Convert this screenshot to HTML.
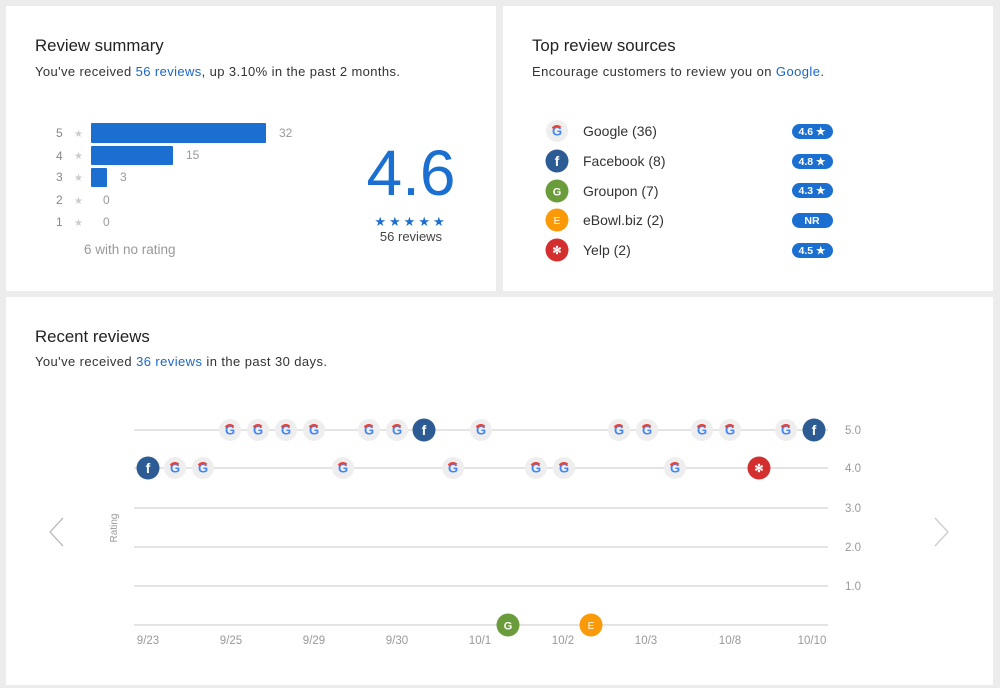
<!DOCTYPE html>
<html><head><meta charset="utf-8"><style>
html,body{margin:0;padding:0;background:#ececec;}
svg{display:block;font-family:"Liberation Sans",Arial,sans-serif;}
</style></head><body>
<svg width="1000" height="688" viewBox="0 0 1000 688" xmlns="http://www.w3.org/2000/svg">
<defs>
<g id="g"><circle r="11" fill="#eeeeee"/><text y="4.5" text-anchor="middle" font-size="13" font-weight="bold" fill="#4285f4">G</text><path d="M-4.3,-2.5 A5,5 0 0 1 3.5,-3.5" stroke="#ea4335" stroke-width="2.2" fill="none"/></g>
<g id="f"><circle r="11.5" fill="#2d5b94"/><text y="5" text-anchor="middle" font-size="14" font-weight="bold" fill="#fff">f</text></g>
<g id="gp"><circle r="11.5" fill="#6a9c3c"/><text y="4.5" text-anchor="middle" font-size="11" font-weight="bold" fill="#fff">G</text></g>
<g id="e"><circle r="11.5" fill="#fb9a08"/><text y="4" text-anchor="middle" font-size="10" fill="#fff">E</text></g>
<g id="y"><circle r="11.5" fill="#d32f2f"/><text y="4" text-anchor="middle" font-size="11" font-weight="bold" fill="#fff">✻</text></g>
</defs>
<rect x="6" y="6" width="490" height="285" fill="#fff"/>
<rect x="503" y="6" width="490" height="285" fill="#fff"/>
<rect x="6" y="297" width="987" height="388" fill="#fff"/>

<text x="35" y="51" font-size="16.8" fill="#222">Review summary</text>
<text x="35" y="76" font-size="13" fill="#333" textLength="365">You've received <tspan fill="#1a66c9">56 reviews</tspan>, up 3.10% in the past 2 months.</text>
<g font-size="12" fill="#888">
<text x="56" y="137">5</text><text x="56" y="160">4</text><text x="56" y="181">3</text><text x="56" y="204">2</text><text x="56" y="226">1</text>
</g>
<g font-size="10" fill="#ccc"><text x="74" y="137">★</text><text x="74" y="159">★</text><text x="74" y="181">★</text><text x="74" y="204">★</text><text x="74" y="226">★</text></g>
<rect x="91" y="123" width="175" height="20" rx="1" fill="#1a6fd1"/>
<rect x="91" y="146" width="82" height="19" rx="1" fill="#1a6fd1"/>
<rect x="91" y="168" width="16" height="19" rx="1" fill="#1a6fd1"/>
<g font-size="12" fill="#999"><text x="279" y="137">32</text><text x="186" y="159">15</text><text x="120" y="181">3</text><text x="103" y="204">0</text><text x="103" y="226">0</text></g>
<text x="84" y="254" font-size="13.5" fill="#999">6 with no rating</text>
<text x="411" y="195" text-anchor="middle" font-size="64" fill="#1a6fd1" style="font-weight:300">4.6</text>
<text x="411" y="226" text-anchor="middle" font-size="13" fill="#1a6fd1" letter-spacing="3">★★★★★</text>
<text x="411" y="241" text-anchor="middle" font-size="13" fill="#444">56 reviews</text>

<text x="532" y="51" font-size="16.8" fill="#222">Top review sources</text>
<text x="532" y="76" font-size="13" fill="#333" textLength="292">Encourage customers to review you on <tspan fill="#1a66c9">Google</tspan>.</text>
<use href="#g" x="557" y="131"/><use href="#f" x="557" y="161"/><use href="#gp" x="557" y="191"/><use href="#e" x="557" y="220"/><use href="#y" x="557" y="250"/>
<g font-size="14" fill="#333"><text x="583" y="136">Google (36)</text><text x="583" y="166">Facebook (8)</text><text x="583" y="196">Groupon (7)</text><text x="583" y="225">eBowl.biz (2)</text><text x="583" y="255">Yelp (2)</text></g>
<g fill="#1a6fd1"><rect x="792" y="124" width="41" height="15" rx="7.5"/><rect x="792" y="154" width="41" height="15" rx="7.5"/><rect x="792" y="183" width="41" height="15" rx="7.5"/><rect x="792" y="213" width="41" height="15" rx="7.5"/><rect x="792" y="243" width="41" height="15" rx="7.5"/></g>
<g font-size="10.5" font-weight="bold" fill="#fff" text-anchor="middle"><text x="812" y="135">4.6 ★</text><text x="812" y="165">4.8 ★</text><text x="812" y="194">4.3 ★</text><text x="812" y="224">NR</text><text x="812" y="254">4.5 ★</text></g>

<text x="35" y="342" font-size="16.8" fill="#222">Recent reviews</text>
<text x="35" y="366" font-size="13" fill="#333" textLength="292">You've received <tspan fill="#1a66c9">36 reviews</tspan> in the past 30 days.</text>
<g stroke="#d4d4d4" stroke-width="1.2"><line x1="134" y1="430" x2="828" y2="430"/><line x1="134" y1="468" x2="828" y2="468"/><line x1="134" y1="508" x2="828" y2="508"/><line x1="134" y1="547" x2="828" y2="547"/><line x1="134" y1="586" x2="828" y2="586"/><line x1="134" y1="625" x2="828" y2="625"/></g>
<g font-size="11.5" fill="#999"><text x="845" y="434">5.0</text><text x="845" y="472">4.0</text><text x="845" y="512">3.0</text><text x="845" y="551">2.0</text><text x="845" y="590">1.0</text></g>
<text transform="translate(117,528) rotate(-90)" text-anchor="middle" font-size="10" fill="#999">Rating</text>
<path d="M63,518 L50,532 L63,546" stroke="#bbb" stroke-width="1.3" fill="none"/>
<path d="M935,518 L948,532 L935,546" stroke="#ccc" stroke-width="1.3" fill="none"/>
<g font-size="11.5" fill="#999" text-anchor="middle"><text x="148" y="644">9/23</text><text x="231" y="644">9/25</text><text x="314" y="644">9/29</text><text x="397" y="644">9/30</text><text x="480" y="644">10/1</text><text x="563" y="644">10/2</text><text x="646" y="644">10/3</text><text x="730" y="644">10/8</text><text x="812" y="644">10/10</text></g>
<use href="#g" x="230" y="430"/><use href="#g" x="258" y="430"/><use href="#g" x="286" y="430"/><use href="#g" x="314" y="430"/><use href="#g" x="369" y="430"/><use href="#g" x="397" y="430"/><use href="#f" x="424" y="430"/><use href="#g" x="481" y="430"/><use href="#g" x="619" y="430"/><use href="#g" x="647" y="430"/><use href="#g" x="702" y="430"/><use href="#g" x="730" y="430"/><use href="#g" x="786" y="430"/><use href="#f" x="814" y="430"/>
<use href="#f" x="148" y="468"/><use href="#g" x="175" y="468"/><use href="#g" x="203" y="468"/><use href="#g" x="343" y="468"/><use href="#g" x="453" y="468"/><use href="#g" x="536" y="468"/><use href="#g" x="564" y="468"/><use href="#g" x="675" y="468"/><use href="#y" x="759" y="468"/>
<use href="#gp" x="508" y="625"/><use href="#e" x="591" y="625"/>
</svg>
</body></html>
